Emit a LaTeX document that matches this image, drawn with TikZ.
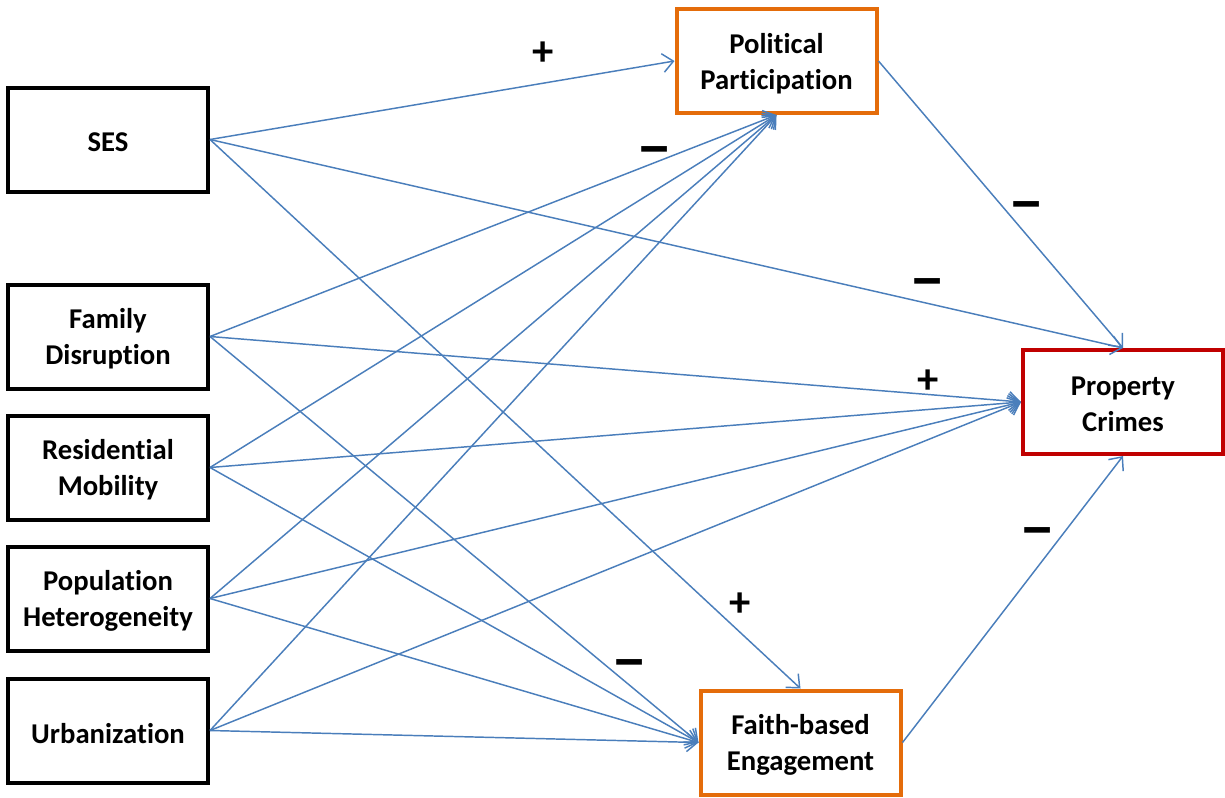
\documentclass[tikz,border=0pt]{standalone}
\usepackage{fontspec}
\usepackage{graphicx}
\setmainfont{Carlito}[Ligatures={NoCommon}]
\usetikzlibrary{arrows.meta}
\definecolor{arrowblue}{HTML}{4A7EBB}
\definecolor{boxorange}{HTML}{E46C0A}
\definecolor{boxred}{HTML}{C00000}
\newcommand{\minussign}{\scalebox{1.7}[1.5]{–}}
\begin{document}
\begin{tikzpicture}[x=0.75pt,y=-0.75pt,
  box/.style={draw=black,line width=3pt,fill=white,minimum width=150pt,minimum height=78pt,
    align=center,inner sep=2pt,font=\fontsize{21.5}{27}\selectfont\bfseries},
  lbl/.style={inner sep=0pt,align=center,font=\fontsize{21.5}{27}\selectfont\bfseries},
  obox/.style={box,draw=boxorange},
  rbox/.style={box,draw=boxred},
  path/.style={draw=arrowblue,line width=1.1pt,-{Straight Barb[length=8pt,width=14pt,line width=1.1pt]}},
  sign/.style={font=\fontsize{32}{34}\selectfont\bfseries,inner sep=0pt}]
\useasboundingbox (0,0) rectangle (1225,797);
\node[box] (ses) at (108,139.5) {};
\node[box] (fam) at (108,336.5) {};
\node[box] (res) at (108,467.5) {};
\node[box] (pop) at (108,598.5) {};
\node[box] (urb) at (108,730.5) {};
\node[obox] (pp) at (776.5,61) {};
\node[obox] (fbe) at (800.5,742.5) {};
\node[rbox] (pc) at (1123,402) {};
\node[lbl] (tses) at ([yshift=-2pt]ses.center) {SES};
\node[lbl] (tfam) at ([yshift=-2pt]fam.center) {Family\\Disruption};
\node[lbl] (tres) at ([yshift=-2pt]res.center) {Residential\\Mobility};
\node[lbl] (tpop) at ([yshift=-2pt]pop.center) {Population\\Heterogeneity};
\node[lbl] (turb) at ([yshift=-2pt]urb.center) {Urbanization};
\node[lbl] (tpp) at ([yshift=-2pt]pp.center) {Political\\Participation};
\node[lbl] (tfbe) at ([yshift=-2pt]fbe.center) {Faith-based\\Engagement};
\node[lbl] (tpc) at ([yshift=-2pt]pc.center) {Property\\Crimes};
\draw[path] (ses.east) -- (pp.west);
\draw[path] (ses.east) -- (pc.north);
\draw[path] (ses.east) -- (fbe.north);
\foreach \s in {fam,res,pop,urb}{
  \draw[path] (\s.east) -- (pp.south);
  \draw[path] (\s.east) -- (pc.west);
  \draw[path] (\s.east) -- (fbe.west);
}
\draw[path] (pp.east) -- (pc.north);
\draw[path] (fbe.east) -- (pc.south);
\node[sign] (s1) at (543,54) {+};
\node[sign] (s2) at (655,157) {\minussign};
\node[sign] (s3) at (1027,212) {\minussign};
\node[sign] (s4) at (928,289) {\minussign};
\node[sign] (s5) at (928,382) {+};
\node[sign] (s6) at (740,605) {+};
\node[sign] (s7) at (630,670) {\minussign};
\node[sign] (s8) at (1038,538) {\minussign};
\end{tikzpicture}
\end{document}
